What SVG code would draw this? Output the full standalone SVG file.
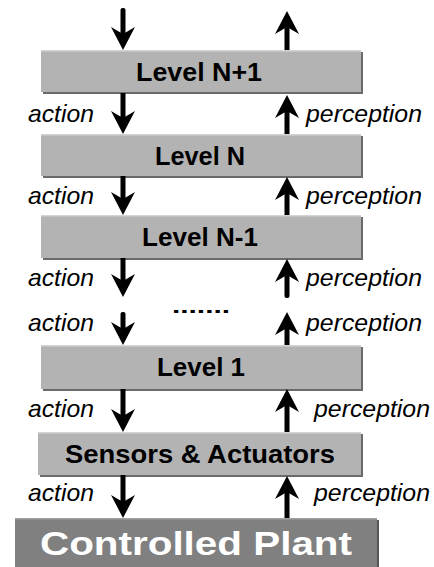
<svg xmlns="http://www.w3.org/2000/svg" width="434" height="567" viewBox="0 0 434 567">
<defs>
<style>
.box{fill:#b3b3b3}
.sh{fill:#6a6a6a}
.hl{fill:#d4d4d4}
.lvl{font-family:"Liberation Sans",Arial,sans-serif;font-weight:bold;font-size:25px;fill:#000}
.lbl{font-family:"Liberation Sans",Arial,sans-serif;font-style:italic;font-size:24px;fill:#000}
.plant{font-family:"Liberation Sans",Arial,sans-serif;font-weight:bold;font-size:33px;fill:#fff}
.arr{fill:#000}
</style>
<path id="down" d="M0,0 L-12,-23 L0,-16 L12,-23 Z"/>
</defs>
<rect width="434" height="567" fill="#fff"/>

<g id="level-n1">
<rect class="sh" x="43" y="52" width="320" height="42"/>
<rect class="box" x="41" y="50" width="320" height="42"/>
<rect class="hl" x="41" y="50" width="320" height="1.5"/>
<text class="lvl" x="136" y="81" textLength="126" lengthAdjust="spacingAndGlyphs">Level N+1</text>
</g>
<g id="level-n">
<rect class="sh" x="43" y="136" width="320" height="42"/>
<rect class="box" x="41" y="134" width="320" height="42"/>
<rect class="hl" x="41" y="134" width="320" height="1.5"/>
<text class="lvl" x="155" y="165" textLength="90" lengthAdjust="spacingAndGlyphs">Level N</text>
</g>
<g id="level-n-1">
<rect class="sh" x="43" y="217" width="320" height="43"/>
<rect class="box" x="41" y="215" width="320" height="43"/>
<rect class="hl" x="41" y="215" width="320" height="1.5"/>
<text class="lvl" x="142" y="246" textLength="116" lengthAdjust="spacingAndGlyphs">Level N-1</text>
</g>
<g id="dots">
<text x="172" y="313" textLength="58" lengthAdjust="spacingAndGlyphs" font-family="Liberation Sans, Arial, sans-serif" font-size="20" font-weight="bold">.......</text>
</g>
<g id="level-1">
<rect class="sh" x="43" y="347" width="320" height="44"/>
<rect class="box" x="41" y="345" width="320" height="44"/>
<rect class="hl" x="41" y="345" width="320" height="1.5"/>
<text class="lvl" x="157" y="376" textLength="88" lengthAdjust="spacingAndGlyphs">Level 1</text>
</g>
<g id="sensors">
<rect class="sh" x="40" y="434" width="323" height="43"/>
<rect class="box" x="38" y="432" width="323" height="43"/>
<rect class="hl" x="38" y="432" width="323" height="1.5"/>
<text class="lvl" x="65" y="463" textLength="270" lengthAdjust="spacingAndGlyphs">Sensors &amp; Actuators</text>
</g>
<g id="plant">
<rect x="17" y="520" width="362" height="50" fill="#555"/>
<rect x="15" y="518" width="362" height="52" fill="#808080"/>
<rect x="15" y="518" width="362" height="1.5" fill="#a0a0a0"/>
<text class="plant" x="40" y="555" textLength="312" lengthAdjust="spacingAndGlyphs">Controlled Plant</text>
</g>

<g id="connectors" class="arr">
<use href="#down" transform="translate(123,50)"/>
<rect x="120.5" y="8" width="5" height="28" rx="2"/>
<use href="#down" transform="translate(287,11) scale(1,-1)"/>
<rect x="284.5" y="25" width="5" height="25"/>

<use href="#down" transform="translate(123,134)"/>
<rect x="120.5" y="93" width="5" height="27"/>
<use href="#down" transform="translate(287,95) scale(1,-1)"/>
<rect x="284.5" y="109" width="5" height="25"/>

<use href="#down" transform="translate(123,215)"/>
<rect x="120.5" y="176" width="5" height="25"/>
<use href="#down" transform="translate(287,177) scale(1,-1)"/>
<rect x="284.5" y="191" width="5" height="24"/>

<use href="#down" transform="translate(123,297)"/>
<rect x="120.5" y="258" width="5" height="25"/>
<use href="#down" transform="translate(287,259) scale(1,-1)"/>
<rect x="284.5" y="273" width="5" height="25" rx="2"/>

<use href="#down" transform="translate(123,345)"/>
<rect x="120.5" y="312" width="5" height="19" rx="2"/>
<use href="#down" transform="translate(287,312) scale(1,-1)"/>
<rect x="284.5" y="326" width="5" height="19"/>

<use href="#down" transform="translate(123,432)"/>
<rect x="120.5" y="389" width="5" height="29"/>
<use href="#down" transform="translate(287,389) scale(1,-1)"/>
<rect x="284.5" y="403" width="5" height="29"/>

<use href="#down" transform="translate(123,518)"/>
<rect x="120.5" y="475" width="5" height="29"/>
<use href="#down" transform="translate(287,476) scale(1,-1)"/>
<rect x="284.5" y="490" width="5" height="28"/>

<text class="lbl" x="28" y="122" textLength="66" lengthAdjust="spacingAndGlyphs">action</text>
<text class="lbl" x="306" y="122" textLength="116" lengthAdjust="spacingAndGlyphs">perception</text>
<text class="lbl" x="28" y="204" textLength="66" lengthAdjust="spacingAndGlyphs">action</text>
<text class="lbl" x="306" y="204" textLength="116" lengthAdjust="spacingAndGlyphs">perception</text>
<text class="lbl" x="28" y="286" textLength="66" lengthAdjust="spacingAndGlyphs">action</text>
<text class="lbl" x="306" y="286" textLength="116" lengthAdjust="spacingAndGlyphs">perception</text>
<text class="lbl" x="28" y="331" textLength="66" lengthAdjust="spacingAndGlyphs">action</text>
<text class="lbl" x="306" y="331" textLength="116" lengthAdjust="spacingAndGlyphs">perception</text>
<text class="lbl" x="28" y="417" textLength="66" lengthAdjust="spacingAndGlyphs">action</text>
<text class="lbl" x="314" y="417" textLength="116" lengthAdjust="spacingAndGlyphs">perception</text>
<text class="lbl" x="28" y="501" textLength="66" lengthAdjust="spacingAndGlyphs">action</text>
<text class="lbl" x="314" y="501" textLength="116" lengthAdjust="spacingAndGlyphs">perception</text>
</g>
</svg>
